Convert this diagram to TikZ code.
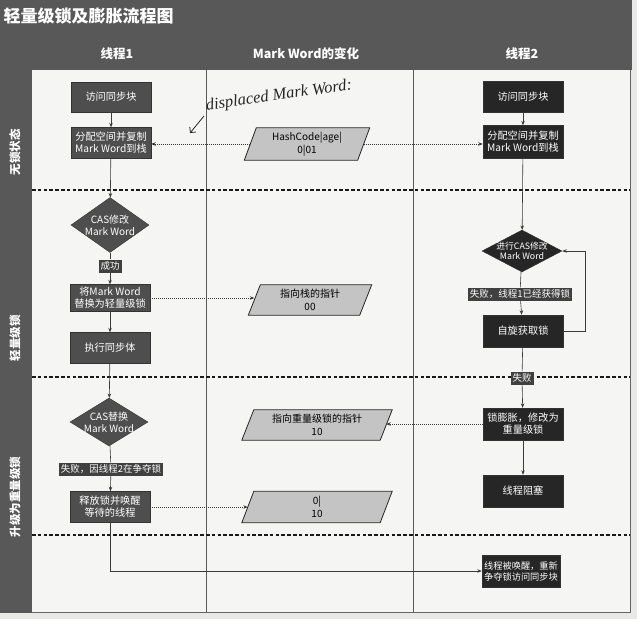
\documentclass[tikz,border=0pt]{standalone}
\usepackage{fontspec}
\setmainfont{Noto Sans CJK SC}
\newfontfamily\handfont{Liberation Serif}
\usetikzlibrary{shapes.geometric,arrows.meta}
\definecolor{paper}{HTML}{E9E9E7}
\definecolor{frame}{HTML}{585858}
\definecolor{inner}{HTML}{F5F5F3}
\definecolor{fillA}{HTML}{4E4E4E}
\definecolor{fillB}{HTML}{262626}
\definecolor{paraF}{HTML}{C4C4C4}
\definecolor{lineC}{HTML}{3A3A3A}
\tikzset{
  boxA/.style={rectangle, fill=fillA, draw=black!80, text=white, align=center,
    font=\fontsize{10.2}{12}\selectfont, minimum width=80pt, minimum height=31pt, inner sep=1pt},
  boxB/.style={boxA, fill=fillB},
  lbl/.style={rectangle, fill=black!75, text=white, font=\fontsize{9.5}{11}\selectfont,
    inner xsep=2pt, inner ysep=0.5pt, minimum height=13pt},
  dia/.style={diamond, fill=fillA, draw=black!80, inner sep=0pt, aspect=1.4},
  diatext/.style={text=white, align=center, font=\fontsize{10}{12}\selectfont},
  pbox/.style={rectangle, inner sep=0pt, draw=none},
  parashape/.style={fill=paraF, draw=black!85, line width=0.8pt, line join=miter},
  paratext/.style={text=black, align=center, font=\fontsize{10}{12.5}\selectfont},
  arr/.style={draw=lineC, line width=0.6pt, -{Stealth[length=4.5pt,width=3.5pt]}},
  lin/.style={draw=lineC, line width=0.6pt},
  dotarr/.style={draw=lineC, line width=0.6pt, dash pattern=on 1.2pt off 0.8pt, -{Stealth[length=4.5pt,width=3.5pt]}},
  lanesep/.style={draw=black!90, line width=1.6pt, dash pattern=on 3.5pt off 2.3pt},
  colsep/.style={draw=black!65, line width=0.6pt},
  hdr/.style={text=white, font=\fontsize{12.5}{14}\selectfont\bfseries},
  side/.style={text=white, rotate=90, font=\fontsize{11.5}{13}\selectfont\bfseries}
}
\newcommand\paradraw[1]{\draw[parashape] ([xshift=12pt]#1.north west) -- (#1.north east) -- ([xshift=-12pt]#1.south east) -- (#1.south west) -- cycle;}
\begin{document}
\begin{tikzpicture}[x=1pt,y=-1pt]
\useasboundingbox (0,0) rectangle (637,619);
\fill[paper] (0,0) rectangle (637,619);
% frame
\fill[frame] (0,0) rectangle (632,70);
\fill[frame] (0,70) rectangle (32,613);
\fill[inner] (32,70) rectangle (630,612);
\draw[black!60, line width=0.6pt] (32,612) -- (630,612) -- (630,70);
% title and headers
\node[anchor=west, text=white, font=\fontsize{17}{19}\selectfont\bfseries] (title) at (0,16) {轻量级锁及膨胀流程图};
\node[hdr] (h1) at (117,54) {线程1};
\node[hdr] (h2) at (306,54) {Mark Word的变化};
\node[hdr] (h3) at (522,54) {线程2};
\node[side] (s1) at (15,152) {无锁状态};
\node[side] (s2) at (15,338) {轻量级锁};
\node[side] (s3) at (15,497) {升级为重量级锁};
% column separators
\draw[colsep] (206,70) -- (206,612);
\draw[colsep] (413,70) -- (413,612);
% lane separators
\draw[lanesep] (32,190) -- (630,190);
\draw[lanesep] (32,377) -- (630,377);
\draw[lanesep] (32,535) -- (630,535);

% column 1
\node[boxA, minimum height=30pt] (a1) at (111,97) {访问同步块};
\node[boxA] (a2) at (111,143) {分配空间并复制\\Mark Word到栈};
\node[dia, minimum width=78pt, minimum height=55pt] (d1) at (110,225) {};
\node[diatext] (d1t) at (d1) {CAS修改\\Mark Word};
\node[lbl] (l1) at (110,266) {成功};
\node[boxA, minimum height=27pt] (a3) at (110,298) {将Mark Word\\替换为轻量级锁};
\node[boxA] (a4) at (110,348) {执行同步体};
\node[dia, minimum width=78pt, minimum height=48pt] (d2) at (109,422) {};
\node[diatext] (d2t) at (d2) {CAS替换\\Mark Word};
\node[lbl] (l2) at (111,469) {失败，因线程2在争夺锁};
\node[boxA] (a5) at (110,507) {释放锁并唤醒\\等待的线程};

% column 2
\node[pbox, minimum width=125pt, minimum height=32pt] (p1) at (307,144) {};
\paradraw{p1}
\node[paratext] (p1t) at (p1) {HashCode|age|\\0|01};
\node[pbox, minimum width=123pt, minimum height=30pt] (p2) at (310,300) {};
\paradraw{p2}
\node[paratext] (p2t) at (p2) {指向栈的指针\\00};
\node[pbox, minimum width=150pt, minimum height=30pt] (p3) at (317,425) {};
\paradraw{p3}
\node[paratext] (p3t) at (p3) {指向重量级锁的指针\\10};
\node[pbox, minimum width=150pt, minimum height=31pt] (p4) at (317,507) {};
\paradraw{p4}
\node[paratext] (p4t) at (p4) {0|\\10};

% column 3
\node[boxB] (b1) at (523,97) {访问同步块};
\node[boxB, minimum height=33pt] (b2) at (523,142) {分配空间并复制\\Mark Word到栈};
\node[dia, fill=fillB, minimum width=80pt, minimum height=42pt] (d3) at (522,251) {};
\node[diatext, font=\fontsize{8.8}{10}\selectfont] (d3t) at (d3) {进行CAS修改\\Mark Word};
\node[lbl] (l3) at (520,294) {失败，线程1已经获得锁};
\node[boxB, minimum height=32pt] (b3) at (523,331) {自旋获取锁};
\node[lbl] (l4) at (522,378) {失败};
\node[boxB, minimum height=32pt] (b4) at (523,424) {锁膨胀，修改为\\重量级锁};
\node[boxB, minimum height=32pt] (b5) at (523,491) {线程阻塞};
\node[boxB, minimum width=78pt, minimum height=32pt, font=\fontsize{9.2}{11}\selectfont] (b6) at (521,571) {线程被唤醒，重新\\争夺锁访问同步块};

% column 1 connectors
\draw[arr] (a1) -- (a2);
\draw[arr] (a2) -- (d1);
\draw[lin] (d1) -- (l1);
\draw[arr] (l1) -- (a3);
\draw[arr] (a3) -- (a4);
\draw[arr] (a4) -- (d2);
\draw[lin] (d2) -- (l2);
\draw[arr] (l2) -- (a5);
\draw[arr] (a5.south) |- (b6.west);

% column 3 connectors
\draw[arr] (b1) -- (b2);
\draw[arr] (b2) -- (d3);
\draw[lin] (d3) -- (l3);
\draw[arr] (l3) -- (b3);
\draw[lin] (b3) -- (l4);
\draw[arr] (l4) -- (b4);
\draw[arr] (b4) -- (b5);
\coordinate (loopR) at (585,331);
\draw[arr] (b3.east) -- (loopR) |- (d3.east);

% cross-lane connectors
\draw[dotarr] ([xshift=6pt]p1.west) -- (p1.west -| a2.east);
\draw[dotarr] ([xshift=-6pt]p1.east) -- (p1.east -| b2.west);
\draw[dotarr] (a3.east) -- ([xshift=6pt]a3.east -| p2.west);
\draw[dotarr] (b4.west) -- ([xshift=-6pt]b4.west -| p3.east);
\draw[dotarr] (a5.east) -- ([xshift=6pt]a5.east -| p4.west);

% handwritten annotation
\node[rotate=8, font=\handfont\itshape\fontsize{16.5}{18}\selectfont, text=black!85] (hw) at (279,96) {displaced Mark Word:};
\coordinate (hwA) at (204,116);
\coordinate (hwB) at (190,133);
\draw[black!85, line width=0.8pt, -{Straight Barb[length=4pt]}] (hwA) -- (hwB);
\end{tikzpicture}
\end{document}
